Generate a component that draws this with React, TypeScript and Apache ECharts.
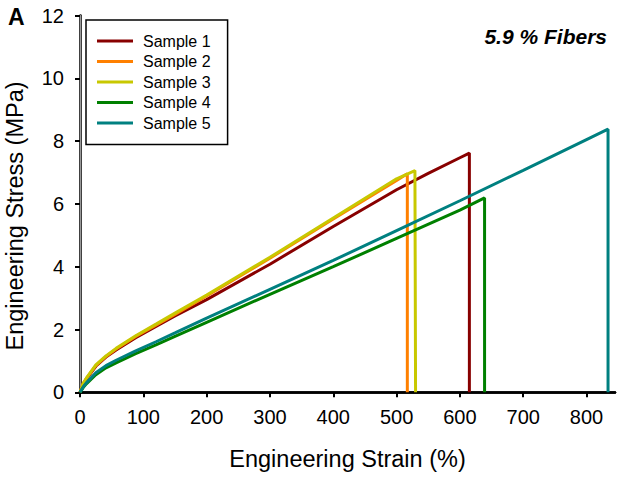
import React, { useEffect, useRef } from "react";
import * as echarts from "echarts";

const FONT = "'Liberation Sans', Arial, Helvetica, sans-serif";

const seriesNames = ["Sample 1", "Sample 2", "Sample 3", "Sample 4", "Sample 5"];
const seriesColors = ["#880000", "#FF8000", "#C8C800", "#008000", "#008080"];

const s1Strain = [0, 5, 10, 25, 41, 57, 88, 120, 150, 200, 300, 400, 500, 550, 600, 615, 615];
const s1Stress = [0, 0.26, 0.42, 0.83, 1.12, 1.35, 1.74, 2.1, 2.43, 2.95, 4.08, 5.28, 6.45, 6.97, 7.47, 7.62, 0];

const s2Strain = [0, 5, 10, 25, 41, 57, 88, 120, 150, 200, 300, 400, 500, 517, 517];
const s2Stress = [0, 0.28, 0.44, 0.85, 1.14, 1.38, 1.78, 2.14, 2.48, 3.07, 4.27, 5.52, 6.75, 6.96, 0];

const s3Strain = [0, 5, 10, 25, 41, 57, 88, 120, 150, 200, 300, 400, 500, 529, 530];
const s3Stress = [0, 0.28, 0.45, 0.87, 1.16, 1.4, 1.8, 2.17, 2.52, 3.1, 4.3, 5.55, 6.8, 7.06, 0];

const s4Strain = [0, 5, 10, 25, 41, 57, 88, 120, 150, 200, 300, 400, 500, 600, 639, 639];
const s4Stress = [0, 0.15, 0.27, 0.56, 0.78, 0.94, 1.23, 1.51, 1.78, 2.23, 3.12, 4.0, 4.9, 5.8, 6.19, 0];

const s5Strain = [0, 5, 10, 25, 41, 57, 88, 120, 150, 200, 300, 400, 500, 600, 700, 800, 834, 834];
const s5Stress = [0, 0.17, 0.3, 0.62, 0.85, 1.02, 1.32, 1.61, 1.89, 2.36, 3.28, 4.2, 5.15, 6.1, 7.07, 8.05, 8.38, 0];

const strainTicks = [0, 100, 200, 300, 400, 500, 600, 700, 800];
const stressTicks = [0, 2, 4, 6, 8, 10, 12];

const allStrain = [s1Strain, s2Strain, s3Strain, s4Strain, s5Strain];
const allStress = [s1Stress, s2Stress, s3Stress, s4Stress, s5Stress];

export default function App() {
  const ref = useRef<HTMLDivElement>(null);
  useEffect(() => {
    if (!ref.current) return;
    const chart = echarts.init(ref.current, null, { renderer: "svg" });
    const series = seriesNames.map((name, i) => ({
      name,
      type: "line",
      data: allStrain[i].map((x, j) => [x, allStress[i][j]]),
      symbol: "none",
      showSymbol: false,
      lineStyle: { color: seriesColors[i], width: 3 },
      itemStyle: { color: seriesColors[i] },
      z: 2 + i,
    }));
    chart.setOption({
      animation: false,
      backgroundColor: "#fff",
      textStyle: { fontFamily: FONT },
      grid: { left: 80, right: 2, top: 15.5, bottom: 85.7, containLabel: false },
      legend: {
        orient: "vertical",
        left: 86,
        top: 20,
        data: seriesNames,
        icon: "rect",
        itemWidth: 36,
        itemHeight: 3,
        itemGap: 4.5,
        padding: [13, 17, 13.5, 11],
        backgroundColor: "#fff",
        borderColor: "#000",
        borderWidth: 1.5,
        borderRadius: 0,
        textStyle: { fontFamily: FONT, fontSize: 16, color: "#000", padding: [0, 0, 0, 5] },
      },
      xAxis: [
        {
          type: "value",
          min: 0,
          max: 845,
          interval: 100,
          name: "Engineering Strain (%)",
          nameLocation: "middle",
          nameGap: 55,
          nameTextStyle: { fontFamily: FONT, fontSize: 23.5, color: "#000" },
          axisLine: { show: true, onZero: false, lineStyle: { color: "#000", width: 2.5 } },
          axisTick: { show: true, inside: false, length: 5, lineStyle: { color: "#000", width: 2 }, customValues: strainTicks },
          axisLabel: { fontFamily: FONT, fontSize: 20, color: "#000", margin: 15, customValues: strainTicks },
          splitLine: { show: false },
        },
        {
          type: "value",
          position: "top",
          min: 0,
          max: 845,
          axisLine: { show: true, lineStyle: { color: "#000", width: 2.5 } },
          axisTick: { show: false },
          axisLabel: { show: false },
          splitLine: { show: false },
        },
      ],
      yAxis: [
        {
          type: "value",
          min: 0,
          max: 12,
          interval: 2,
          axisLine: { show: true, onZero: false, lineStyle: { color: "#000", width: 2.5 } },
          axisTick: { show: true, inside: false, length: 5, lineStyle: { color: "#000", width: 2 }, customValues: stressTicks },
          axisLabel: { fontFamily: FONT, fontSize: 20, color: "#000", margin: 16, customValues: stressTicks },
          splitLine: { show: false },
        },
        {
          type: "value",
          position: "right",
          min: 0,
          max: 12,
          axisLine: { show: true, lineStyle: { color: "#999", width: 1 } },
          axisTick: { show: false },
          axisLabel: { show: false },
          splitLine: { show: false },
        },
      ],
      graphic: [
        {
          type: "text",
          x: 15,
          y: 216,
          rotation: Math.PI / 2,
          style: {
            text: "Engineering Stress (MPa)",
            font: `23.5px ${FONT}`,
            fill: "#000",
            align: "center",
            verticalAlign: "middle",
          },
        },
        {
          type: "text",
          x: 8,
          y: 17,
          style: {
            text: "A",
            font: `bold 23px ${FONT}`,
            fill: "#000",
            align: "left",
            verticalAlign: "middle",
          },
        },
        {
          type: "text",
          x: 607,
          y: 36,
          style: {
            text: "5.9 % Fibers",
            font: `italic bold 21px ${FONT}`,
            fill: "#000",
            align: "right",
            verticalAlign: "middle",
          },
        },
      ],
      series,
    });
    return () => chart.dispose();
  }, []);
  return <div ref={ref} style={{ position: "fixed", left: 0, top: 0, width: 617, height: 478 }} />;
}
